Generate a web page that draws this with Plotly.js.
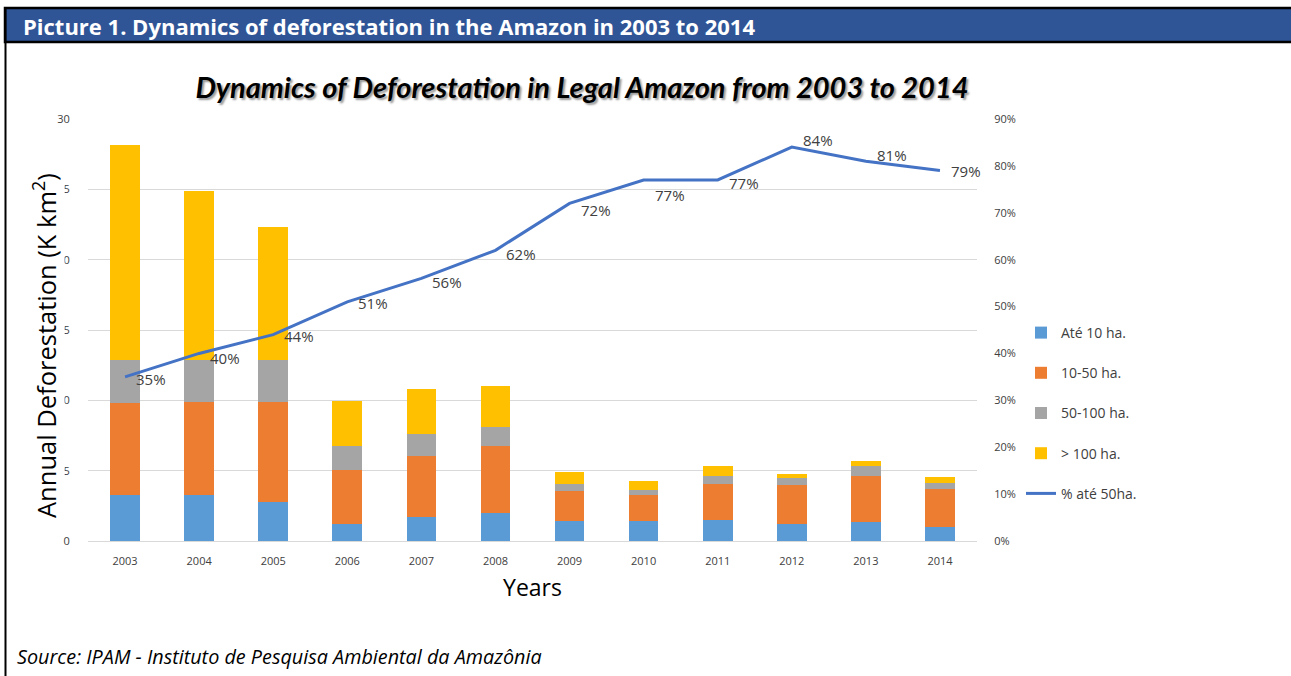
<!DOCTYPE html>
<html>
<head>
<meta charset="utf-8">
<script src="https://cdn.plot.ly/plotly-3.0.1.min.js"></script>
<style>html,body{margin:0;padding:0;background:#fff;}#chart{width:1291px;height:676px;}</style>
</head>
<body>
<div id="chart"></div>
<script>
// ---- data ----
const years = ['2003','2004','2005','2006','2007','2008','2009','2010','2011','2012','2013','2014'];
const ate10   = [3.27, 3.27, 2.80, 1.21, 1.68, 1.97, 1.42, 1.42, 1.49, 1.21, 1.35, 0.99];
const ha10_50 = [6.52, 6.63, 7.06, 3.84, 4.38, 4.80, 2.13, 1.85, 2.58, 2.77, 3.25, 2.68];
const ha50_100= [3.07, 2.96, 3.00, 1.72, 1.54, 1.33, 0.52, 0.33, 0.53, 0.50, 0.75, 0.47];
const over100 = [15.29, 12.01, 9.48, 3.18, 3.23, 2.94, 0.86, 0.66, 0.73, 0.26, 0.31, 0.43];
const pctAte50 = [0.35, 0.40, 0.44, 0.51, 0.56, 0.62, 0.72, 0.77, 0.77, 0.84, 0.81, 0.79];
const pctLabels = ['35%','40%','44%','51%','56%','62%','72%','77%','77%','84%','81%','79%'];
const leftTicks = [0,5,10,15,20,25,30];
const rightTicks = [0,0.1,0.2,0.3,0.4,0.5,0.6,0.7,0.8,0.9];

// label vertical nudges in px (styling only, positive = down)
const labelNudge = [2, 5, 1, 1, 4, 4, 7, 15, 3, -7, -6, 0];

// ---- geometry helpers (pixel -> paper) ----
const W = 1291, H = 676, L = 88, R = 977, T = 119, B = 541;
const px = x => (x - L) / (R - L);
const py = y => (B - y) / (B - T);

const FONT = '"Open Sans", Lato, sans-serif';
const TFONT = 'Lato, "Open Sans", sans-serif';

function barTrace(name, vals, color, g) {
  return {type:'bar', name:name, x:years, y:vals, marker:{color:color},
          legendgroup:g, hoverinfo:'y+name'};
}

const data = [
  barTrace('Até 10 ha.', ate10, '#5B9BD5', 'a'),
  barTrace('10-50 ha.', ha10_50, '#ED7D31', 'b'),
  barTrace('50-100 ha.', ha50_100, '#A5A5A5', 'c'),
  barTrace('> 100 ha.', over100, '#FFC000', 'd'),
  {type:'scatter', mode:'lines', name:'% até 50ha.', x:years, y:pctAte50, yaxis:'y2',
   line:{color:'#4472C4', width:3}, legendgroup:'e'}
];

// data labels of the line, placed at each category index on the category axis
const lineLabels = years.map((yr, i) => ({
  xref:'x', yref:'y2', x:i, y:pctAte50[i], text:pctLabels[i], showarrow:false,
  xanchor:'left', yanchor:'middle', xshift:9, yshift:-labelNudge[i],
  font:{family:FONT, size:15, color:'#404040'}
}));

const layout = {
  width:W, height:H,
  margin:{l:L, r:W-R, t:T, b:H-B, pad:0},
  paper_bgcolor:'#fff', plot_bgcolor:'#fff',
  barmode:'stack', bargap:0.6,
  font:{family:FONT, color:'#595959'},
  showlegend:true,
  title:{text:'<b><i>Dynamics of Deforestation in Legal Amazon from 2003 to 2014</i></b>',
         x:582/W, xanchor:'center', y:1-88/H, yanchor:'middle',
         font:{family:TFONT, size:29, color:'#000', shadow:'2px 2px 2px #9a9a9a'}},
  xaxis:{type:'category', categoryarray:years, range:[-0.5, years.length - 0.5],
         tickfont:{size:11, color:'#404040'}, showgrid:false,
         showline:true, linecolor:'#D9D9D9', ticks:'outside', ticklen:10, tickcolor:'rgba(0,0,0,0)',
         title:{text:'Years', font:{size:23, color:'#000'}, standoff:12}},
  yaxis:{range:[0,30], tickvals:leftTicks, tickfont:{size:11, color:'#404040'},
         gridcolor:'#D9D9D9', zeroline:false, showline:false,
         ticks:'outside', ticklen:15, tickcolor:'rgba(0,0,0,0)'},
  yaxis2:{overlaying:'y', side:'right', range:[0,0.9], tickvals:rightTicks, tickformat:'.0%',
          tickfont:{size:11, color:'#404040'}, showgrid:false, zeroline:false, showline:false,
          ticks:'outside', ticklen:14, tickcolor:'rgba(0,0,0,0)'},
  legend:{x:px(1021), xanchor:'left', y:py(317), yanchor:'top', traceorder:'grouped',
          tracegroupgap:19, font:{size:14, color:'#404040'}, bgcolor:'rgba(0,0,0,0)'},
  shapes:[
    {type:'rect', xref:'paper', yref:'paper', x0:px(5), x1:px(1300), y0:py(8), y1:py(42),
     fillcolor:'#2F5597', line:{color:'#000', width:2.5}, layer:'above'},
    {type:'line', xref:'paper', yref:'paper', x0:px(5.5), x1:px(5.5), y0:py(8), y1:py(680),
     line:{color:'#000', width:2}}
  ],
  annotations:lineLabels.concat([
    {xref:'paper', yref:'paper', x:px(21), y:py(26), xanchor:'left', yanchor:'middle', showarrow:false,
     text:'<b>Picture 1. Dynamics of deforestation in the Amazon in 2003 to 2014</b>',
     font:{family:FONT, size:22, color:'#fff'}},
    {xref:'paper', yref:'paper', x:px(44), y:py(346), xanchor:'center', yanchor:'middle', showarrow:false,
     textangle:-90, text:'Annual Deforestation (K km<sup>2</sup>)', bgcolor:'#fff', borderpad:1,
     font:{family:FONT, size:25.5, color:'#000'}},
    {xref:'paper', yref:'paper', x:px(15), y:py(656), xanchor:'left', yanchor:'middle', showarrow:false,
     text:'<i>Source: IPAM - Instituto de Pesquisa Ambiental da Amazônia</i>',
     font:{family:FONT, size:19.8, color:'#000'}}
  ])
};

Plotly.newPlot('chart', data, layout, {displayModeBar:false, staticPlot:true});
</script>
</body>
</html>
